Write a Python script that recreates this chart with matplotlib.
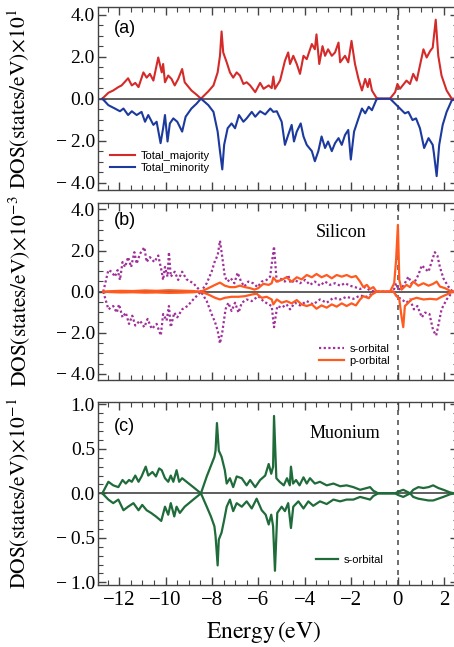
# DOS of silicon with muonium - three stacked panels
import numpy as np
import matplotlib
matplotlib.use("Agg")
import matplotlib.pyplot as plt
from matplotlib.ticker import MultipleLocator, FuncFormatter

plt.rcParams['font.family'] = ['Liberation Serif', 'DejaVu Serif']
plt.rcParams['mathtext.fontset'] = 'stix'

# ---- panel (a): total DOS (x10^1 states/eV) ----
e_maj = [-12.73, -12.47, -12.26, -12.04, -11.90, -11.62, -11.46, -11.31, -11.17, -10.96, -10.82, -10.68,
         -10.53, -10.32, -10.17, -10.11, -10.03, -9.89, -9.75, -9.61, -9.46, -9.29, -9.18, -8.89, -8.67,
         -8.48, -8.16, -7.94, -7.76, -7.66, -7.59, -7.52, -7.37, -7.23, -7.09, -6.94, -6.80, -6.65, -6.51,
         -6.36, -6.14, -5.93, -5.78, -5.56, -5.43, -5.36, -5.29, -5.07, -4.86, -4.72, -4.64, -4.50, -4.35,
         -4.21, -4.06, -3.92, -3.70, -3.57, -3.50, -3.38, -3.24, -3.13, -3.00, -2.84, -2.70, -2.55, -2.48,
         -2.27, -2.13, -1.99, -1.84, -1.69, -1.54, -1.40, -1.29, -1.21, -1.11, -0.91, -0.76, -0.33, -0.11,
         -0.01, 0.10, 0.38, 0.53, 0.67, 0.82, 1.11, 1.25, 1.40, 1.51, 1.64, 1.75, 1.89, 2.11, 2.33, 2.60]
dos_maj = [0, 0.28, 0.39, 0.55, 0.63, 0.97, 0.63, 0.75, 0.55, 1.25, 1.0, 1.18,
           0.86, 1.96, 1.25, 1.65, 0.78, 1.1, 0.94, 0.63, 0.94, 1.41, 0.78, 0.39, 0.19,
           0, 0.35, 0.63, 1.25, 2.04, 3.2, 2.2, 1.73, 1.25, 1.0, 1.25, 1.1, 0.7, 0.78,
           0.63, 0.31, 0.75, 0.47, 0.63, 0.5, 1.05, 0.47, 0.86, 1.8, 2.2, 1.65, 2.04, 1.65,
           1.18, 2.04, 1.88, 2.6, 2.35, 3.06, 1.65, 2.5, 2.04, 2.35, 2.04, 2.2, 2.67, 1.73,
           2.04, 1.73, 2.75, 1.65, 0.94, 0.39, 0.94, 0.55, 0.94, 0.39, 0.03, 0, 0, 0.31,
           0.7, 0.47, 0.86, 0.7, 1.18, 0.86, 2.35, 1.96, 2.27, 2.43, 3.76, 2.04, 1.1, 0.39, 0, 0]

e_min = [-12.73, -12.47, -12.19, -11.97, -11.82, -11.62, -11.46, -11.25, -11.04, -10.89, -10.75, -10.53,
         -10.39, -10.22, -10.11, -10.03, -9.92, -9.82, -9.67, -9.50, -9.29, -9.14, -8.89, -8.67, -8.48,
         -8.16, -7.94, -7.76, -7.66, -7.56, -7.48, -7.33, -7.16, -7.01, -6.84, -6.65, -6.51, -6.29, -6.14,
         -5.93, -5.71, -5.49, -5.36, -5.21, -5.00, -4.86, -4.72, -4.57, -4.47, -4.35, -4.18, -4.06, -3.92,
         -3.70, -3.57, -3.42, -3.28, -3.13, -3.00, -2.84, -2.70, -2.55, -2.41, -2.27, -2.13, -2.02, -1.88,
         -1.69, -1.54, -1.40, -1.25, -1.11, -0.91, -0.76, -0.33, -0.11, 0.10, 0.31, 0.46, 0.64, 0.79,
         0.96, 1.14, 1.33, 1.51, 1.56, 1.68, 1.79, 1.94, 2.11, 2.33, 2.60]
dos_min = [0, -0.31, -0.47, -0.6, -0.47, -0.78, -0.6, -0.78, -0.63, -1.1, -0.78, -1.25,
           -1.1, -2.12, -1.41, -0.78, -2.04, -1.18, -0.94, -1.1, -1.57, -0.86, -0.47, -0.24, 0,
           -0.31, -0.63, -1.57, -2.5, -3.37, -2.2, -1.41, -1.18, -1.41, -0.78, -1.1, -0.94, -0.63, -0.86,
           -0.6, -0.75, -0.47, -0.63, -0.6, -1.1, -2.2, -1.73, -1.25, -2.04, -1.57, -1.18, -1.8, -2.2,
           -2.5, -2.98, -2.5, -1.8, -2.35, -2.04, -2.5, -2.12, -1.88, -2.2, -1.73, -1.49, -2.9, -1.57,
           -0.94, -0.47, -0.7, -0.39, -0.55, -0.03, 0, 0, -0.24, -0.47, -0.7, -0.63, -1.02, -0.94,
           -1.41, -2.35, -1.88, -2.2, -2.59, -3.69, -2.2, -1.25, -0.63, -0.08, 0]

# ---- panel (b): silicon (x10^-3 states/eV) ----
e_si_s_up = [-12.69, -12.47, -12.33, -12.19, -12.07, -11.97, -11.86, -11.75, -11.62, -11.49, -11.35, -11.25,
             -11.11, -10.92, -10.82, -10.68, -10.49, -10.32, -10.17, -10.11, -10.03, -9.92, -9.86, -9.78,
             -9.61, -9.46, -9.29, -9.10, -8.81, -8.48, -8.23, -8.02, -7.87, -7.76, -7.66, -7.56, -7.45,
             -7.33, -7.19, -7.04, -6.90, -6.75, -6.61, -6.44, -6.23, -6.04, -5.86, -5.65, -5.50, -5.33,
             -5.21, -5.08, -4.86, -4.72, -4.61, -4.43, -4.21, -3.99, -3.78, -3.57, -3.35, -3.13, -2.92,
             -2.70, -2.48, -2.27, -2.06, -1.84, -1.62, -1.40, -1.19, -0.98, -0.19, -0.07, 0.03, 0.17,
             0.31, 0.46, 0.59, 0.74, 0.89, 1.04, 1.18, 1.33, 1.46, 1.60, 1.71, 1.82, 1.97, 2.18, 2.37, 2.60]
dos_si_s_up = [0, 1.05, 0.97, 0.73, 1.05, 0.57, 1.44, 1.2, 1.68, 1.2, 1.92, 1.36,
               1.84, 2.16, 1.44, 1.68, 1.44, 1.76, 0.97, 0.57, 1.2, 0.73, 1.92, 0.73,
               0.97, 0.57, 0.97, 0.6, 0.41, 0, 0.41, 0.97, 1.52, 1.76, 2.48, 1.68, 0.73,
               0.49, 0.65, 0.41, 0.92, 0.49, 0.25, 0.49, 0.41, 0.22, 0.49, 0.57, 0.73, 2.2,
               0.41, 0.65, 0.49, 0.81, 0.41, 0.57, 0.41, 0.57, 0.33, 0.49, 0.29, 0.49, 0.33,
               0.41, 0.29, 0.41, 0.29, 0.22, 0.13, 0.22, 0.06, 0, 0, 0.41, 0.1, 0.17,
               0.41, 0.73, 0.41, 0.49, 0.81, 1.28, 1.12, 0.97, 1.44, 1.92, 1.76, 1.2, 0.65, 0.25, 0, 0]

e_si_s_dn = [-12.69, -12.47, -12.26, -12.11, -12.01, -11.86, -11.72, -11.58, -11.44, -11.31, -11.11, -10.92,
             -10.78, -10.60, -10.39, -10.21, -10.11, -9.96, -9.86, -9.78, -9.63, -9.50, -9.29, -9.06,
             -8.81, -8.48, -8.23, -8.02, -7.87, -7.76, -7.66, -7.56, -7.42, -7.30, -7.16, -7.01, -6.86,
             -6.72, -6.51, -6.29, -6.01, -5.79, -5.56, -5.43, -5.33, -5.19, -5.00, -4.79, -4.64, -4.43,
             -4.21, -3.92, -3.64, -3.35, -3.06, -2.77, -2.48, -2.20, -1.91, -1.62, -1.33, -1.05, -0.91,
             -0.19, -0.04, 0.17, 0.38, 0.53, 0.70, 0.85, 1.04, 1.18, 1.37, 1.53, 1.66, 1.75, 1.89, 2.11,
             2.37, 2.60]
dos_si_s_dn = [0, -0.86, -0.7, -1.02, -0.62, -1.25, -1.02, -1.57, -1.17, -1.65, -1.41, -1.73,
               -1.33, -1.81, -1.57, -2.13, -1.09, -1.41, -0.7, -1.73, -1.02, -1.25, -0.86, -0.7,
               -0.38, 0, -0.46, -1.09, -1.49, -1.89, -2.52, -1.97, -0.86, -0.54, -0.94, -0.54, -1.02,
               -0.54, -0.38, -0.46, -0.22, -0.46, -0.62, -0.7, -1.73, -0.7, -0.78, -0.62, -0.86, -0.54,
               -0.67, -0.46, -0.62, -0.38, -0.54, -0.3, -0.38, -0.25, -0.35, -0.19, -0.25, -0.06, 0,
               0, -0.22, -0.38, -0.54, -0.38, -0.86, -0.7, -1.25, -1.02, -1.09, -1.89, -2.13, -1.65, -0.86, -0.38,
               0, 0]

e_si_p_up = [-12.69, -12.44, -11.93, -11.40, -10.89, -10.40, -9.86, -9.35, -8.83, -8.48, -8.16, -7.87,
             -7.66, -7.45, -7.23, -7.01, -6.80, -6.58, -6.36, -6.17, -6.01, -5.79, -5.56, -5.43, -5.36,
             -5.21, -5.00, -4.79, -4.57, -4.35, -4.14, -3.92, -3.70, -3.50, -3.28, -3.06, -2.84, -2.63,
             -2.41, -2.20, -1.99, -1.80, -1.62, -1.48, -1.33, -1.19, -1.05, -0.91, -0.33, -0.15, -0.07,
             0.01, 0.07, 0.17, 0.38, 0.53, 0.67, 0.89, 1.11, 1.33, 1.53, 1.68, 1.82, 2.04, 2.33, 2.60]
dos_si_p_up = [0, 0.02, 0.04, 0.03, 0.06, 0.04, 0.07, 0.05, 0.03, 0, 0.17, 0.33,
               0.44, 0.29, 0.22, 0.22, 0.29, 0.22, 0.17, 0.1, 0.17, 0.38, 0.33, 0.41, 0.68,
               0.49, 0.57, 0.7, 0.49, 0.7, 0.6, 0.81, 0.7, 0.86, 0.7, 0.81, 0.65, 0.81,
               0.73, 0.81, 0.7, 0.76, 0.49, 0.22, 0.33, 0.13, 0.22, 0, 0, 0.41, 1.52,
               3.25, 0.57, 0.1, 0.33, 0.22, 0.49, 0.29, 0.41, 0.29, 0.38, 0.49, 0.25, 0.17, 0, 0]

e_si_p_dn = [-12.69, -12.44, -11.93, -11.40, -10.89, -10.40, -9.86, -9.35, -8.83, -8.48, -8.16, -7.87,
             -7.66, -7.45, -7.16, -6.86, -6.58, -6.29, -6.08, -5.86, -5.65, -5.43, -5.36, -5.21, -5.00,
             -4.79, -4.57, -4.35, -4.14, -3.92, -3.70, -3.50, -3.28, -3.06, -2.84, -2.63, -2.41, -2.20,
             -1.99, -1.80, -1.62, -1.48, -1.25, -1.11, -0.91, -0.19, -0.04, 0.07, 0.17, 0.24, 0.31, 0.46,
             0.59, 0.82, 1.11, 1.40, 1.68, 1.89, 2.11, 2.37, 2.60]
dos_si_p_dn = [0, -0.02, -0.04, -0.03, -0.05, -0.04, -0.06, -0.05, -0.03, 0, -0.14, -0.3,
               -0.38, -0.3, -0.25, -0.25, -0.22, -0.14, -0.1, -0.3, -0.25, -0.38, -0.62, -0.38, -0.54,
               -0.46, -0.57, -0.41, -0.62, -0.7, -0.62, -0.83, -0.67, -0.78, -0.62, -0.73, -0.57, -0.7,
               -0.57, -0.67, -0.38, -0.22, -0.32, -0.14, 0, 0, -0.22, -0.38, -1.25, -1.73, -0.7, -0.54,
               -0.38, -0.3, -0.38, -0.35, -0.38, -0.25, -0.14, 0, 0]

# ---- panel (c): muonium (x10^-1 states/eV) ----
e_mu_up = [-12.73, -12.47, -12.26, -12.04, -11.86, -11.72, -11.58, -11.46, -11.31, -11.17, -11.04, -10.86,
           -10.75, -10.57, -10.42, -10.28, -10.17, -10.03, -9.89, -9.78, -9.67, -9.53, -9.42, -9.29,
           -9.10, -8.81, -8.48, -8.23, -8.05, -7.90, -7.85, -7.79, -7.71, -7.59, -7.45, -7.37, -7.23,
           -7.09, -6.94, -6.72, -6.51, -6.36, -6.14, -5.93, -5.71, -5.56, -5.45, -5.37, -5.33, -5.23,
           -5.09, -4.91, -4.77, -4.65, -4.60, -4.51, -4.38, -4.23, -4.06, -3.92, -3.78, -3.57, -3.35,
           -3.06, -2.77, -2.48, -2.20, -1.91, -1.62, -1.33, -1.19, -1.05, -0.84, -0.11, 0.03, 0.24,
           0.54, 0.67, 0.89, 1.11, 1.33, 1.53, 1.75, 1.97, 2.26, 2.45, 2.60]
dos_mu_up = [0, 0.13, 0.09, 0.07, 0.15, 0.11, 0.15, 0.13, 0.2, 0.13, 0.19, 0.3,
             0.2, 0.24, 0.19, 0.28, 0.26, 0.17, 0.13, 0.2, 0.13, 0.26, 0.13, 0.17,
             0.13, 0.07, 0, 0.19, 0.31, 0.41, 0.48, 0.79, 0.48, 0.41, 0.26, 0.11, 0.17,
             0.07, 0.19, 0.17, 0.09, 0.15, 0.07, 0.15, 0.2, 0.33, 0.22, 0.3, 0.87, 0.17,
             0.13, 0.09, 0.17, 0.09, 0.3, 0.11, 0.15, 0.09, 0.18, 0.11, 0.17, 0.11, 0.13,
             0.09, 0.11, 0.08, 0.09, 0.07, 0.04, 0.06, 0.07, 0.03, 0, 0, 0.02, 0.04,
             0, 0.04, 0.07, 0.06, 0.07, 0.09, 0.06, 0.04, 0.01, 0, 0]

e_mu_dn = [-12.73, -12.47, -12.26, -12.04, -11.82, -11.62, -11.39, -11.17, -11.01, -10.82, -10.63, -10.42,
           -10.19, -10.03, -9.89, -9.78, -9.63, -9.53, -9.39, -9.18, -8.81, -8.48, -8.23, -8.05, -7.90,
           -7.85, -7.76, -7.71, -7.59, -7.48, -7.37, -7.23, -7.09, -6.94, -6.72, -6.51, -6.29, -6.08,
           -5.86, -5.69, -5.56, -5.45, -5.37, -5.29, -5.19, -5.00, -4.86, -4.72, -4.60, -4.50, -4.28,
           -4.06, -3.85, -3.64, -3.35, -3.06, -2.77, -2.48, -2.20, -1.91, -1.62, -1.33, -1.19, -1.05,
           -0.84, -0.11, 0.03, 0.24, 0.54, 0.67, 0.89, 1.11, 1.33, 1.53, 1.75, 1.97, 2.26, 2.45, 2.60]
dos_mu_dn = [0, -0.07, -0.11, -0.07, -0.19, -0.15, -0.11, -0.19, -0.13, -0.19, -0.22, -0.26,
             -0.31, -0.15, -0.24, -0.11, -0.26, -0.15, -0.22, -0.15, -0.07, 0, -0.15, -0.26, -0.37,
             -0.48, -0.81, -0.52, -0.44, -0.3, -0.15, -0.07, -0.2, -0.11, -0.15, -0.09, -0.17, -0.06,
             -0.19, -0.24, -0.35, -0.24, -0.37, -0.87, -0.22, -0.15, -0.2, -0.11, -0.39, -0.15, -0.09,
             -0.17, -0.09, -0.14, -0.09, -0.12, -0.07, -0.09, -0.07, -0.07, -0.04, -0.06, -0.07, -0.03,
             0, 0, -0.02, -0.04, 0, -0.04, -0.06, -0.07, -0.08, -0.08, -0.06, -0.04, -0.01, 0, 0]

x_ticks = [-12, -10, -8, -6, -4, -2, 0, 2]

c_maj = '#d42a2a'
c_min = '#1c3a9e'
c_s = '#a0309a'
c_p = '#ff5a1f'
c_mu = '#1f6b3a'

W, H = 454, 647
fig = plt.figure(figsize=(W / 100, H / 100), dpi=100)
left = 97.7 / W
width = (458.0 - 97.7) / W
ax_a = fig.add_axes([left, 1 - 190 / H, width, (190 - 7.3) / H])
ax_b = fig.add_axes([left, 1 - 380 / H, width, (380 - 203.3) / H])
ax_c = fig.add_axes([left, 1 - 585 / H, width, (585 - 401.7) / H])


def fmt_y(v, pos):
    s = f"{abs(v):.1f}"
    return ("\u2212\u2009" + s) if v < -1e-9 else s


def fmt_x(v, pos):
    return ("\u2212" + f"{abs(v):.0f}") if v < -1e-9 else f"{v:.0f}"


for ax in (ax_a, ax_b, ax_c):
    ax.set_xlim(-12.93, 2.6)
    ax.axhline(0, color='#333333', lw=1.1, zorder=1)
    ax.axvline(0, color='#555555', lw=1.2, ls=(0, (3, 3)), zorder=1)
    ax.xaxis.set_major_locator(MultipleLocator(2))
    ax.xaxis.set_minor_locator(MultipleLocator(0.5))
    ax.tick_params(which='both', direction='in', top=True, right=True, colors='#444444',
                   labelcolor='black')
    ax.tick_params(which='major', length=6, width=1)
    ax.tick_params(which='minor', length=3.5, width=0.8)
    ax.tick_params(axis='y', labelsize=14, pad=2)
    ax.tick_params(axis='x', labelsize=15, pad=4)
    ax.yaxis.set_major_formatter(FuncFormatter(fmt_y))
    for sp in ax.spines.values():
        sp.set_color('#444444')
        sp.set_linewidth(1.0)
    ax.yaxis.set_label_coords((32 - 97.7) / (458.0 - 97.7), 0.5)

# (a)
ax_a.plot(e_maj, dos_maj, color=c_maj, lw=1.5, label='Total_majority')
ax_a.plot(e_min, dos_min, color=c_min, lw=1.5, label='Total_minority')
ax_a.set_ylim(-4.35, 4.35)
ax_a.yaxis.set_major_locator(MultipleLocator(2))
ax_a.yaxis.set_minor_locator(MultipleLocator(0.5))
ax_a.set_ylabel(r'$\mathrm{DOS}\left(\mathrm{states/eV}\right)\!\times\!10^{1}$', fontsize=15.5)
ax_a.text(0.045, 0.885, '(a)', transform=ax_a.transAxes, fontsize=13,
          family='Liberation Sans', va='center', ha='left')
ax_a.legend(loc='lower left', bbox_to_anchor=(0.02, 0.065), frameon=False,
            prop={'family': 'Liberation Sans', 'size': 8}, handlelength=2.2,
            handletextpad=0.5, labelspacing=0.15, borderpad=0)
ax_a.tick_params(axis='x', labelbottom=False)

# (b)
ax_b.plot(e_si_s_up, dos_si_s_up, color=c_s, lw=1.6, ls=(0, (1, 1.1)), label='s-orbital')
ax_b.plot(e_si_s_dn, dos_si_s_dn, color=c_s, lw=1.6, ls=(0, (1, 1.1)))
ax_b.plot(e_si_p_up, dos_si_p_up, color=c_p, lw=1.6, label='p-orbital')
ax_b.plot(e_si_p_dn, dos_si_p_dn, color=c_p, lw=1.6)
ax_b.set_ylim(-4.3, 4.3)
ax_b.yaxis.set_major_locator(MultipleLocator(2))
ax_b.yaxis.set_minor_locator(MultipleLocator(0.5))
ax_b.set_ylabel(r'$\mathrm{DOS}\left(\mathrm{states/eV}\right)\!\times\!10^{-3}$', fontsize=15.5)
ax_b.text(0.045, 0.905, '(b)', transform=ax_b.transAxes, fontsize=13,
          family='Liberation Sans', va='center', ha='left')
ax_b.text(0.677, 0.832, 'Silicon', transform=ax_b.transAxes, fontsize=13,
          va='center', ha='center')
ax_b.legend(loc='lower left', bbox_to_anchor=(0.6, 0.05), frameon=False,
            prop={'family': 'Liberation Sans', 'size': 8}, handlelength=2.2,
            handletextpad=0.5, labelspacing=0.15, borderpad=0)
ax_b.tick_params(axis='x', labelbottom=False)

# (c)
ax_c.plot(e_mu_up, dos_mu_up, color=c_mu, lw=1.6, label='s-orbital')
ax_c.plot(e_mu_dn, dos_mu_dn, color=c_mu, lw=1.6)
ax_c.set_ylim(-1.03, 1.03)
ax_c.yaxis.set_major_locator(MultipleLocator(0.5))
ax_c.yaxis.set_minor_locator(MultipleLocator(0.1))
ax_c.set_ylabel(r'$\mathrm{DOS}\left(\mathrm{states/eV}\right)\!\times\!10^{-1}$', fontsize=15.5)
ax_c.text(0.045, 0.862, '(c)', transform=ax_c.transAxes, fontsize=13,
          family='Liberation Sans', va='center', ha='left')
ax_c.text(0.685, 0.824, 'Muonium', transform=ax_c.transAxes, fontsize=13,
          va='center', ha='center')
ax_c.legend(loc='lower left', bbox_to_anchor=(0.59, 0.08), frameon=False,
            prop={'family': 'Liberation Sans', 'size': 8}, handlelength=2.0,
            handletextpad=0.5, borderpad=0)
ax_c.set_xticks(x_ticks)
ax_c.xaxis.set_major_formatter(FuncFormatter(fmt_x))
ax_c.set_xlabel(r'$\mathrm{Energy}\,\left(\mathrm{eV}\right)$', fontsize=17)
ax_c.xaxis.set_label_coords(0.46, -0.185)

fig.savefig('out.png', dpi=100)
